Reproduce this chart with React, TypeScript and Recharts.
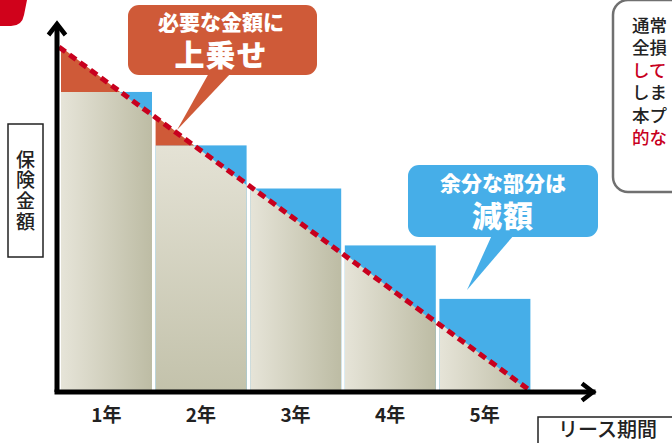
import { ComposedChart, Bar, Line, XAxis, YAxis } from 'recharts';

// 各年のプラン保険金額（青い棒）と、必要な金額（点線：年の境目ごと）
const years = ['1年', '2年', '3年', '4年', '5年'];
const planAmount = [87, 71.5, 59, 42.5, 27];
const yearMarks = [0, 1, 2, 3, 4, 5];
const requiredAmount = [100, 80, 60, 40, 20, 0];

const barData = years.map((year, i) => ({
  year,
  plan: planAmount[i],
  from: requiredAmount[i],
  to: requiredAmount[i + 1],
}));
const lineData = yearMarks.map((t, i) => ({ t, required: requiredAmount[i] }));

const BLUE = '#46aee8';
const TOPUP = '#cf5a38';
const DASH = '#c8001e';
const FONT = '"Noto Sans CJK JP", "Noto Sans", sans-serif';

const pts = (list: number[][]) => list.map((p) => p.join(',')).join(' ');

// 1本の棒：青＝プラン金額、ベージュ＝必要額と重なる部分、赤＝必要額が上回る部分
function PlanBar(props: any) {
  const { x, y, width, height, payload, index } = props;
  if (!height || !payload) return null;
  const base = y + height;
  const k = height / payload.plan;
  const yl = base - payload.from * k;
  const yr = base - payload.to * k;
  const lineAt = (t: number) => yl + (yr - yl) * t;
  const cross = (y - yl) / (yr - yl);
  const ts = [0, ...(cross > 0 && cross < 1 ? [cross] : []), 1];
  const X = (t: number) => x + width * t;
  const beige = [[x, base], ...ts.map((t) => [X(t), Math.max(y, lineAt(t))]), [x + width, base]];
  const red = [
    ...ts.map((t) => [X(t), Math.min(y, lineAt(t))]),
    ...ts.slice().reverse().map((t) => [X(t), y]),
  ];
  const hasRed = yl < y || yr < y;
  return (
    <g>
      <rect x={x} y={y} width={width} height={height} fill={BLUE} />
      <polygon points={pts(beige)} fill={index === 1 ? 'url(#beigeV)' : 'url(#beigeH)'} />
      {hasRed && <polygon points={pts(red)} fill={TOPUP} />}
    </g>
  );
}

function YearTick(props: any) {
  const { x, y, payload } = props;
  return (
    <text x={x} y={y} dy={22} textAnchor="middle" fontFamily={FONT} fontSize={19} fontWeight={700} fill="#222">
      {payload.value}
    </text>
  );
}

const noteLines = [
  { t: '通常', red: false },
  { t: '全損', red: false },
  { t: 'して', red: true },
  { t: 'しま', red: false },
  { t: '本プ', red: false },
  { t: '的な', red: true },
];

export default function App() {
  return (
    <div style={{ position: 'relative', width: 672, height: 443, background: '#fff', overflow: 'hidden' }}>
      <style>{'body{margin:0}'}</style>
      <ComposedChart width={672} height={443} data={barData} margin={{ top: 24, right: 79, bottom: 21, left: 56 }}>
        <defs>
          <linearGradient id="beigeH" x1="0" y1="0" x2="1" y2="0">
            <stop offset="0%" stopColor="#e6e4d8" />
            <stop offset="100%" stopColor="#bdbca4" />
          </linearGradient>
          <linearGradient id="beigeV" x1="0" y1="0" x2="0" y2="1">
            <stop offset="0%" stopColor="#e4e2d5" />
            <stop offset="100%" stopColor="#c3c2ab" />
          </linearGradient>
          <marker id="arrowHead" viewBox="-16 -12 20 24" markerWidth={20} markerHeight={24} refX={0} refY={0}
            markerUnits="userSpaceOnUse" orient="auto-start-reverse">
            <path d="M-11,-8.5 L0,0 L-11,8.5" fill="none" stroke="#000" strokeWidth={4.5} />
          </marker>
        </defs>
        <XAxis
          dataKey="year"
          type="category"
          padding={{ left: 2, right: 61 }}
          axisLine={{ stroke: '#000', strokeWidth: 5, strokeLinecap: 'square', markerEnd: 'url(#arrowHead)' }}
          tickLine={false}
          tick={<YearTick />}
          height={30}
        />
        <XAxis xAxisId="num" dataKey="t" type="number" domain={[0, 5]} padding={{ left: 2, right: 61 }} hide />
        <YAxis
          domain={[0, 106.7]}
          width={1}
          tick={false}
          tickLine={false}
          axisLine={{ stroke: '#000', strokeWidth: 5, markerStart: 'url(#arrowHead)' }}
        />
        <Bar dataKey="plan" barSize={91} shape={<PlanBar />} isAnimationActive={false} />
        <Line
          xAxisId="num"
          data={lineData}
          dataKey="required"
          type="linear"
          stroke={DASH}
          strokeWidth={5}
          strokeDasharray="8 5"
          dot={false}
          activeDot={false}
          isAnimationActive={false}
        />
      </ComposedChart>

      <svg width={672} height={443} style={{ position: 'absolute', left: 0, top: 0, pointerEvents: 'none' }}
        fontFamily={FONT}>
        {/* 左上の赤い図形 */}
        <path d="M0,0 L27,0 L24,15 Q22,26 11,26 L0,26 Z" fill="#d0021b" />

        {/* 縦軸ラベル */}
        <rect x={8} y={124} width={35} height={133} fill="#fff" stroke="#222" strokeWidth={1.5} />
        <text x={25.5} y={150} fontSize={19} fontWeight={500} fill="#222"
          style={{ writingMode: 'vertical-rl', letterSpacing: 1.7 }}>
          保険金額
        </text>

        {/* 横軸ラベル */}
        <rect x={538} y={417} width={150} height={40} fill="#fff" stroke="#222" strokeWidth={1.5} />
        <text x={558} y={437} fontSize={20} fontWeight={500} fill="#222">リース期間</text>

        {/* 上乗せ吹き出し */}
        <rect x={128} y={5} width={189} height={70} rx={11} fill={TOPUP} />
        <polygon points="209,73 231,73 177,130" fill={TOPUP} />
        <text x={221} y={30} textAnchor="middle" fontSize={21} fontWeight={900} fill="#fff">必要な金額に</text>
        <text x={221} y={66} textAnchor="middle" fontSize={30} fontWeight={900} fill="#fff" letterSpacing={1}>上乗せ</text>

        {/* 減額吹き出し */}
        <rect x={408} y={165} width={190} height={72} rx={11} fill={BLUE} />
        <polygon points="492,235 514,235 467,290" fill={BLUE} />
        <text x={503} y={191} textAnchor="middle" fontSize={21} fontWeight={900} fill="#fff">余分な部分は</text>
        <text x={503} y={227} textAnchor="middle" fontSize={30} fontWeight={900} fill="#fff" letterSpacing={1}>減額</text>

        {/* 右上の説明枠 */}
        <rect x={613} y={0} width={90} height={192} rx={15} fill="#fff" stroke="#707070" strokeWidth={2.5} />
        {noteLines.map((l, i) => (
          <text key={i} x={632} y={32 + i * 22.4} fontSize={17.5} fontWeight={500}
            fill={l.red ? DASH : '#222'}>
            {l.t}
          </text>
        ))}
      </svg>
    </div>
  );
}
